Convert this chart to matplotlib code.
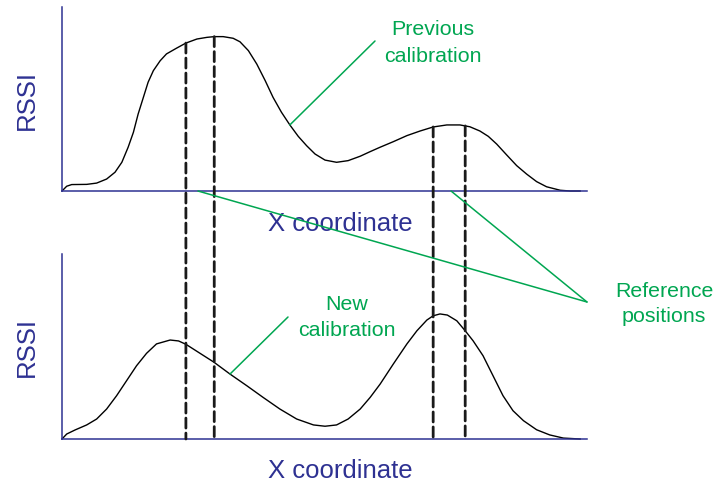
import numpy as np
import matplotlib
matplotlib.use("Agg")
import matplotlib.pyplot as plt
from matplotlib.patches import ConnectionPatch

plt.rcParams["font.family"] = ["Liberation Sans", "DejaVu Sans"]

# ---------------------------------------------------------
# data (x coordinate 0..100, RSSI 0..100)
# ---------------------------------------------------------
prev_x = [0, 0.9, 1.85, 4.7, 6.6, 8.5, 10.1, 11.4, 12.6, 13.6, 14.5, 15.5, 16.4,
          17.4, 18.7, 19.9, 21.8, 23.6, 25.7, 27.6, 29.0, 30.7, 32.6, 33.9, 35.5,
          37.1, 38.7, 40.2, 41.8, 43.4, 45.0, 46.6, 48.2, 50.1, 52.3, 54.5, 56.8,
          58.7, 60.6, 63.1, 65.7, 68.2, 70.7, 73.3, 75.8, 77.7, 79.6, 81.2, 82.8,
          84.7, 86.6, 88.5, 90.4, 92.3, 94.9, 96.8, 98.7]
prev_rssi = [0, 2.6, 3.5, 3.6, 4.3, 6.5, 10.2, 15.6, 23.8, 31.9, 41.8, 50.9, 59.1,
             65.4, 70.8, 74.5, 77.6, 80.4, 82.6, 83.5, 83.9, 83.9, 83.0, 81.1, 76.3,
             69.0, 60.0, 50.9, 42.8, 35.9, 29.7, 24.6, 20.1, 16.8, 15.6, 16.5, 18.9,
             21.4, 23.8, 26.8, 30.1, 32.6, 34.8, 35.9, 35.9, 34.9, 32.6, 29.7, 25.5,
             19.6, 13.8, 9.2, 5.1, 2.3, 0.4, 0, 0]

new_x = [0, 0.9, 2.5, 4.7, 6.6, 8.5, 10.4, 12.3, 14.2, 16.1, 18.0, 20.6, 22.2,
         23.6, 26.3, 28.95, 32.0, 35.2, 38.3, 41.5, 44.7, 47.9, 50.1, 52.3, 54.5,
         56.8, 58.7, 60.6, 63.1, 65.7, 67.6, 69.5, 70.7, 72.0, 73.4, 75.2, 76.8,
         78.3, 80.2, 82.1, 84.0, 85.9, 87.9, 90.4, 92.9, 95.5, 98.7]
new_rssi = [0, 2.7, 4.9, 7.6, 10.8, 16.2, 23.4, 31.5, 39.6, 46.3, 51.4, 53.5, 53.0,
            51.2, 46.3, 41.5, 35.1, 28.8, 22.5, 16.2, 10.8, 7.6, 6.9, 7.6, 10.8,
            16.2, 22.5, 29.7, 40.5, 51.4, 58.5, 64.3, 66.6, 67.6, 67.0, 63.9, 58.5,
            53.1, 45.0, 34.2, 23.4, 15.3, 9.9, 5.0, 2.2, 0.5, 0]

ref_positions = [23.6, 29.0, 70.7, 76.8]

NAVY = "#2e3192"
GREEN = "#00a651"

fig = plt.figure(figsize=(7.17, 4.85), dpi=100)

# overlay in pixel units for labels / leader lines
ov = fig.add_axes([0, 0, 1, 1])
ov.set_xlim(0, 717)
ov.set_ylim(485, 0)
ov.axis("off")

ax_top = fig.add_axes([62 / 717, 293 / 485, 525 / 717, 184 / 485])
ax_bot = fig.add_axes([62 / 717, 45 / 485, 525 / 717, 185 / 485])

for ax in (ax_top, ax_bot):
    ax.set_xlim(0, 100)
    ax.set_ylim(0, 100)
    ax.patch.set_visible(False)
    for s in ("top", "right"):
        ax.spines[s].set_visible(False)
    for s in ("left", "bottom"):
        ax.spines[s].set_color(NAVY)
        ax.spines[s].set_linewidth(1.1)
    ax.set_xticks([])
    ax.set_yticks([])

ax_top.plot(prev_x, prev_rssi, color="black", lw=1.0, clip_on=False)
ax_bot.plot(new_x, new_rssi, color="black", lw=1.0, clip_on=False)

# dashed reference lines from previous curve down to new x axis
for xr in ref_positions:
    ytop = np.interp(xr, prev_x, prev_rssi)
    con = ConnectionPatch(xyA=(xr, ytop), coordsA=ax_top.transData,
                          xyB=(xr, 0), coordsB=ax_bot.transData,
                          color="#1a1a1a", lw=2.0, linestyle=(0, (3.6, 1.8)))
    fig.add_artist(con)

# green leader lines
def leader(ax, xy, end):
    fig.add_artist(ConnectionPatch(xyA=xy, coordsA=ax.transData,
                                   xyB=end, coordsB=ov.transData,
                                   color=GREEN, lw=1.1))

leader(ax_top, (43.4, 35.9), (375, 42))
leader(ax_top, (25.9, 0), (587, 303))
leader(ax_top, (74.1, 0), (587, 303))
leader(ax_bot, (32.0, 35.1), (288, 318))

# texts
fs_g = 15.4
ov.text(433, 35, "Previous", color=GREEN, fontsize=fs_g, ha="center", va="baseline")
ov.text(433, 61.5, "calibration", color=GREEN, fontsize=fs_g, ha="center", va="baseline")
ov.text(347, 310.5, "New", color=GREEN, fontsize=fs_g, ha="center", va="baseline")
ov.text(347, 336.5, "calibration", color=GREEN, fontsize=fs_g, ha="center", va="baseline")
ov.text(664, 297.5, "Reference", color=GREEN, fontsize=fs_g, ha="center", va="baseline")
ov.text(664, 322.5, "positions", color=GREEN, fontsize=fs_g, ha="center", va="baseline")

fs_n = 18.5
ov.text(340, 231, "X coordinate", color=NAVY, fontsize=fs_n, ha="center", va="baseline")
ov.text(340, 478, "X coordinate", color=NAVY, fontsize=fs_n, ha="center", va="baseline")
ov.text(34.3, 100, "RSSI", color=NAVY, fontsize=fs_n, ha="center", va="baseline",
        rotation=90, rotation_mode="anchor")
ov.text(34.3, 347, "RSSI", color=NAVY, fontsize=fs_n, ha="center", va="baseline",
        rotation=90, rotation_mode="anchor")

fig.savefig("out.png", dpi=100)
